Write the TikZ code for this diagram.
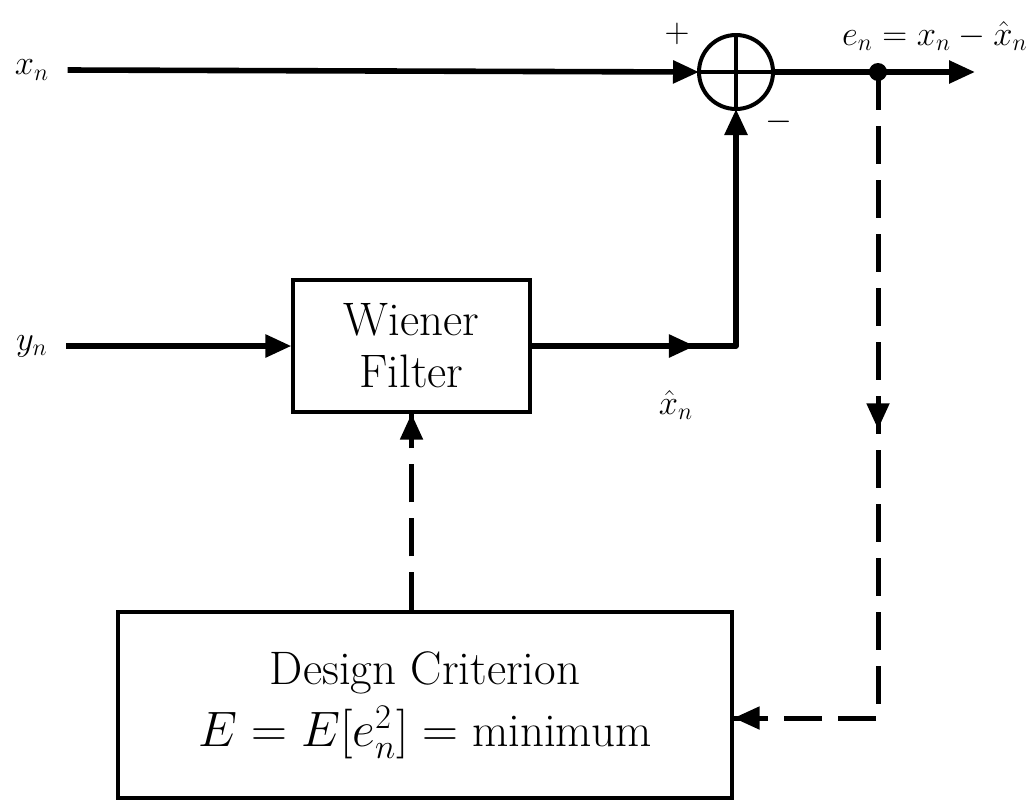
\documentclass[tikz,border=0pt]{standalone}
\usetikzlibrary{arrows.meta,decorations.markings,calc}
\begin{document}
\begin{tikzpicture}[x=0.5pt,y=-0.5pt,
  tip/.style={-{Triangle[length=13pt,width=11pt]}},
  mainline/.style={line width=2.8pt},
  dashline/.style={line width=2.5pt,dash pattern=on 19pt off 8pt},
  midarrow/.style={postaction={decorate},decoration={markings,
     mark=at position #1 with {\pgfsetdash{}{0pt}\arrow{Triangle[length=13pt,width=11pt]}}}},
  blockbox/.style={draw,line width=1.6pt,align=center,inner sep=0pt},
  lbl/.style={font=\fontsize{18}{21}\selectfont,inner sep=1pt},
  boxtext/.style={font=\fontsize{23.5}{26}\selectfont}
]
\useasboundingbox (0,0) rectangle (1032,810);

% nodes
\node[lbl] (xn) at (32,70) {$x_n$};
\node[lbl] (yn) at (32,346) {$y_n$};
\node[circle,draw,line width=2pt,minimum size=37pt,inner sep=0pt,outer sep=0pt] (sum) at (736,72) {};
\draw[line width=2pt] (sum.north) -- (sum.south);
\draw[line width=2pt] (sum.west) -- (sum.east);
\node[circle,fill,inner sep=0pt,minimum size=9pt] (dot) at (878,72) {};
\coordinate (outend) at (975,72);

\node[blockbox,boxtext,minimum width=118.5pt,minimum height=66pt] (filter) at (411.5,346)
  {Wiener\\Filter};
\node[blockbox,minimum width=307pt,minimum height=93pt,
  font=\fontsize{23.5}{31}\selectfont] (crit) at (425,705)
  {Design Criterion\\ $E = E[e_n^2] = {}$minimum};

\node[lbl] (plus) at (677,34) {$+$};
\node[lbl] (minus) at (779,122) {$-$};
\node[lbl,anchor=east,font=\fontsize{17}{20}\selectfont] (elbl) at (1030,36) {$e_n = x_n - \hat{x}_n$};
\node[lbl] (xhat) at (676,405) {$\hat{x}_n$};

\coordinate (corner1) at (sum.south |- filter.east);
\coordinate (corner2) at (dot |- 0,718);

% connectors
\draw[mainline,tip] ([xshift=8pt]xn.east) -- (sum.west);
\draw[mainline,tip] ([xshift=8pt]yn.east |- filter.west) -- (filter.west);
\draw[mainline,line join=round,tip,midarrow=0.37] (filter.east) -- (corner1) -- (sum.south);
\draw[mainline,tip] (sum.east) -- (outend);
\draw[dashline,midarrow=0.452] (dot.center) -- (corner2) -- (crit.east |- corner2);
\draw[line width=2.5pt,tip] ([xshift=14pt]crit.east |- corner2) -- (crit.east |- corner2);
\draw[dashline] (filter.south |- crit.north) -- (filter.south);
\draw[line width=2.5pt,tip] ([yshift=-14pt]filter.south) -- (filter.south);
\end{tikzpicture}
\end{document}
